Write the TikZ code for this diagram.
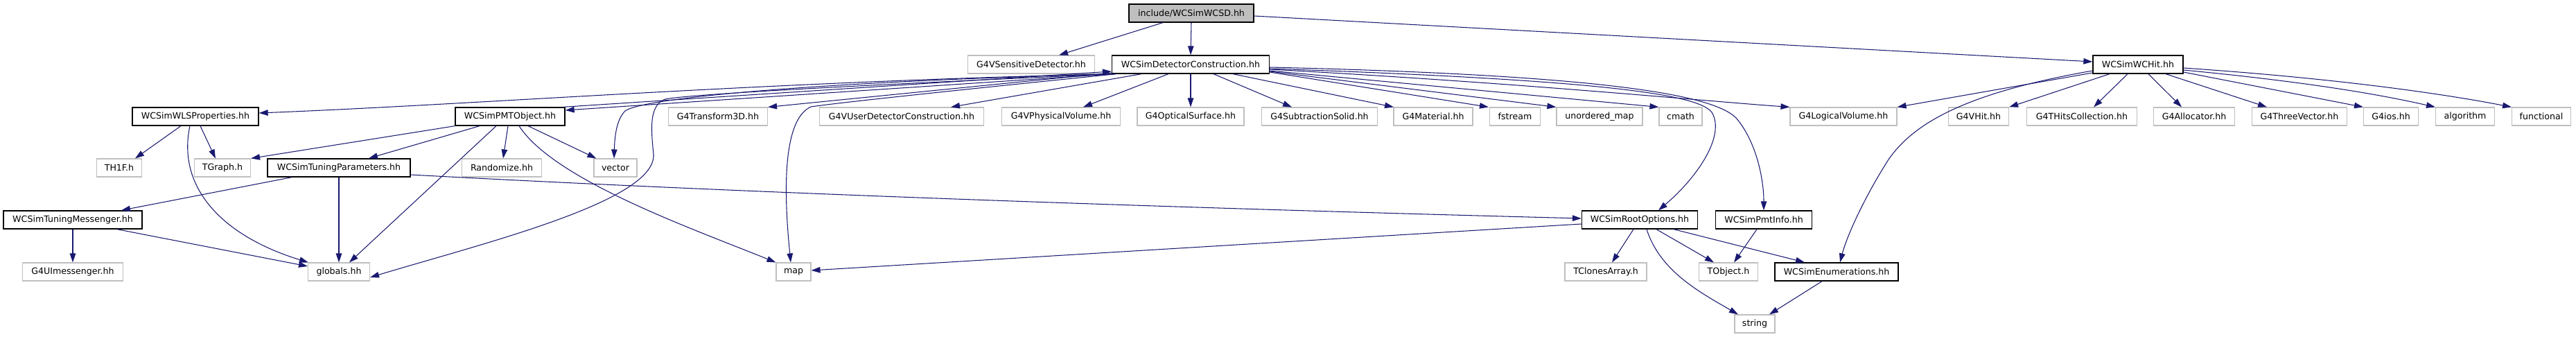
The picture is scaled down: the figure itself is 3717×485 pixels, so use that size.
\documentclass[tikz,border=0pt]{standalone}
\usepackage{fontspec}
\setmainfont{DejaVu Sans}
\usetikzlibrary{arrows.meta}
\definecolor{edgecol}{HTML}{191970}
\definecolor{graybd}{HTML}{BFBFBF}
\begin{document}
\begin{tikzpicture}[x=1pt,y=-1pt,
  box/.style={draw=graybd, line width=1.1pt, fill=white, minimum height=26pt, inner sep=0pt, font=\fontsize{12.6}{15}\selectfont},
  docbox/.style={box, draw=black, line width=1.3pt},
  rootbox/.style={docbox, fill=graybd},
  dep/.style={draw=edgecol, line width=1.05pt, -{Triangle[length=13pt,width=8.5pt]}}
]
\useasboundingbox (0,0) rectangle (3717,485);
% row 1
\node[rootbox, minimum width=180pt] (root) at (1719,19) {include/WCSimWCSD.hh};
% row 2
\node[box, minimum width=183pt] (sd) at (1488,93) {G4VSensitiveDetector.hh};
\node[docbox, minimum width=227pt] (dc) at (1718,93) {WCSimDetectorConstruction.hh};
\node[docbox, minimum width=130pt] (wchit) at (3085,93) {WCSimWCHit.hh};
% row 3
\node[docbox, minimum width=182pt] (wls) at (282,168) {WCSimWLSProperties.hh};
\node[docbox, minimum width=158pt] (pmt) at (736,168) {WCSimPMTObject.hh};
\node[box, minimum width=143pt] (tr3d) at (1036,168) {G4Transform3D.hh};
\node[box, minimum width=237pt] (udc) at (1301,168) {G4VUserDetectorConstruction.hh};
\node[box, minimum width=171pt] (pv) at (1531,168) {G4VPhysicalVolume.hh};
\node[box, minimum width=154pt] (os) at (1718,168) {G4OpticalSurface.hh};
\node[box, minimum width=167pt] (ss) at (1904,168) {G4SubtractionSolid.hh};
\node[box, minimum width=114pt] (mat) at (2068,168) {G4Material.hh};
\node[box, minimum width=73pt] (fst) at (2186,168) {fstream};
\node[box, minimum width=124pt] (umap) at (2308,168) {unordered\_map};
\node[box, minimum width=62pt] (cmath) at (2425,168) {cmath};
\node[box, minimum width=154pt] (lv) at (2660,168) {G4LogicalVolume.hh};
\node[box, minimum width=87pt] (vhit) at (2855,168) {G4VHit.hh};
\node[box, minimum width=159pt] (thc) at (3004,168) {G4THitsCollection.hh};
\node[box, minimum width=117pt] (alloc) at (3166,168) {G4Allocator.hh};
\node[box, minimum width=137pt] (tv) at (3318,168) {G4ThreeVector.hh};
\node[box, minimum width=79pt] (ios) at (3450,168) {G4ios.hh};
\node[box, minimum width=85pt] (algo) at (3557,168) {algorithm};
\node[box, minimum width=85pt] (func) at (3667,168) {functional};
% row 4
\node[box, minimum width=65pt] (th1f) at (172,242) {TH1F.h};
\node[box, minimum width=81pt] (tgraph) at (321,242) {TGraph.h};
\node[docbox, minimum width=206pt] (tp) at (489,242) {WCSimTuningParameters.hh};
\node[box, minimum width=115pt] (rand) at (724,242) {Randomize.hh};
\node[box, minimum width=62pt] (vec) at (888,242) {vector};
% row 5
\node[docbox, minimum width=200pt] (tm) at (105,317) {WCSimTuningMessenger.hh};
\node[docbox, minimum width=167pt] (ro) at (2366,317) {WCSimRootOptions.hh};
\node[docbox, minimum width=139pt] (pi) at (2545,317) {WCSimPmtInfo.hh};
% row 6
\node[box, minimum width=145pt] (uim) at (105,392) {G4UImessenger.hh};
\node[box, minimum width=89pt] (glob) at (489,392) {globals.hh};
\node[box, minimum width=50pt] (map) at (1145,392) {map};
\node[box, minimum width=118pt] (tca) at (2317,392) {TClonesArray.h};
\node[box, minimum width=85pt] (tobj) at (2494,392) {TObject.h};
\node[docbox, minimum width=178pt] (enum) at (2650,392) {WCSimEnumerations.hh};
% row 7
\node[box, minimum width=58pt] (str) at (2532,467) {string};

% root edges
\draw[dep] ([xshift=-41pt]root.south) -- ([xshift=40pt]sd.north);
\draw[dep] (root.south) -- (dc.north);
\draw[dep] ([yshift=-4pt]root.east) -- ([yshift=4pt]wchit.west);

% detector construction, downward and right
\draw[dep] ([xshift=-71pt]dc.south) -- ([xshift=71pt]udc.north);
\draw[dep] ([xshift=-32pt]dc.south) -- ([xshift=32pt]pv.north);
\draw[dep] (dc.south) -- (os.north);
\draw[dep] ([xshift=33pt]dc.south) -- ([xshift=-40pt]ss.north);
\draw[dep] ([xshift=61pt]dc.south) -- ([xshift=-57pt]mat.north);
\draw[dep] ([yshift=-11pt]dc.east) -- ([xshift=-1pt]fst.north west);
\draw[dep] ([yshift=-10pt]dc.east) -- (umap.north west);
\draw[dep] ([yshift=-9pt]dc.east) -- (cmath.north west);
\draw[dep] ([yshift=-7pt]dc.east) .. controls (2200,120) and (2450,145) .. (lv.north west);
\draw[dep] ([yshift=-6pt]dc.east) .. controls (2300,115) and (2450,135) .. (2470,162)
   .. controls (2490,195) and (2450,255) .. ([xshift=27pt]ro.north);
\draw[dep] ([yshift=-4pt]dc.east) .. controls (2300,108) and (2470,135) .. (2505,170)
   .. controls (2535,205) and (2545,260) .. (pi.north);

% detector construction, leftward
\draw[dep] ([yshift=-12pt]dc.west) -- (tr3d.north east);
\draw[dep] ([xshift=4pt]dc.south west) .. controls (1100,118) and (700,150) .. ([yshift=5pt]wls.east);
\draw[dep] ([xshift=3pt]dc.south west) -- ([yshift=9pt]pmt.east);
\draw[dep] ([xshift=-3pt]pmt.north east) -- ([yshift=-10pt]dc.west);
\draw[dep] ([xshift=5pt]dc.south west) .. controls (1200,117) and (930,140) .. (902,160)
   .. controls (890,172) and (887,195) .. ([xshift=-2pt]vec.north);
\draw[dep] ([xshift=6pt]dc.south west) .. controls (1300,120) and (1000,135) .. (960,143)
   .. controls (935,152) and (940,190) .. (943,223)
   .. controls (946,290) and (700,350) .. ([yshift=-8pt]glob.east);
\draw[dep] ([xshift=7pt]dc.south west) .. controls (1400,128) and (1210,148) .. (1170,154)
   .. controls (1135,170) and (1128,250) .. ([xshift=-4pt]map.north);

% PMT object
\draw[dep] (pmt.south west) -- (tgraph.north east);
\draw[dep] ([xshift=-44pt]pmt.south) -- ([xshift=43pt]tp.north);
\draw[dep] ([xshift=-20pt]pmt.south) -- ([xshift=15pt]glob.north);
\draw[dep] ([xshift=-3pt]pmt.south) -- ([xshift=2pt]rand.north);
\draw[dep] ([xshift=13pt]pmt.south) .. controls (800,260) and (1000,330) .. (map.north west);
\draw[dep] ([xshift=26pt]pmt.south) -- ([xshift=4pt]vec.north west);

% WLS properties
\draw[dep] ([xshift=-21pt]wls.south) -- ([xshift=23pt]th1f.north);
\draw[dep] ([xshift=7pt]wls.south) -- ([xshift=-10pt]tgraph.north);
\draw[dep] ([xshift=-8pt]wls.south) .. controls (255,270) and (320,340) .. ([xshift=1pt]glob.north west);

% tuning parameters
\draw[dep] ([xshift=-68pt]tp.south) -- ([xshift=70pt]tm.north);
\draw[dep] (tp.south) -- (glob.north);
\draw[dep] ([yshift=-10pt]tp.east) .. controls (1200,285) and (1900,305) .. ([yshift=2pt]ro.west);

% tuning messenger
\draw[dep] (tm.south) -- (uim.north);
\draw[dep] ([xshift=64pt]tm.south) -- ([yshift=8pt]glob.west);

% root options
\draw[dep] ([yshift=-6pt]ro.west) -- ([yshift=2pt]map.east);
\draw[dep] ([xshift=-9pt]ro.south) -- ([xshift=9pt]tca.north);
\draw[dep] ([xshift=10pt]ro.south) .. controls (2395,390) and (2450,420) .. ([xshift=-24pt]str.north);
\draw[dep] ([xshift=24pt]ro.south) -- ([xshift=-21pt]tobj.north);
\draw[dep] ([xshift=49pt]ro.south) -- ([xshift=-46pt]enum.north);

% pmt info, enumerations
\draw[dep] ([xshift=-10pt]pi.south) -- ([xshift=8pt]tobj.north);
\draw[dep] ([xshift=-21pt]enum.south) -- ([xshift=21pt]str.north);

% WC hit
\draw[dep] ([yshift=-12pt]wchit.west) -- (lv.north east);
\draw[dep] ([yshift=-9pt]wchit.west) .. controls (2830,135) and (2760,180) .. (2725,230)
   .. controls (2690,285) and (2665,340) .. ([xshift=5pt]enum.north);
\draw[dep] ([xshift=-41pt]wchit.south) -- (vhit.north east);
\draw[dep] ([xshift=-15pt]wchit.south) -- ([xshift=17pt]thc.north);
\draw[dep] ([xshift=15pt]wchit.south) -- ([xshift=-18pt]alloc.north);
\draw[dep] ([xshift=40pt]wchit.south) -- ([xshift=-47pt]tv.north);
\draw[dep] ([yshift=-11pt]wchit.east) -- (ios.north west);
\draw[dep] ([yshift=-8pt]wchit.east) .. controls (3350,120) and (3450,140) .. (algo.north west);
\draw[dep] ([yshift=-5pt]wchit.east) .. controls (3400,115) and (3550,140) .. (func.north west);
\end{tikzpicture}
\end{document}
